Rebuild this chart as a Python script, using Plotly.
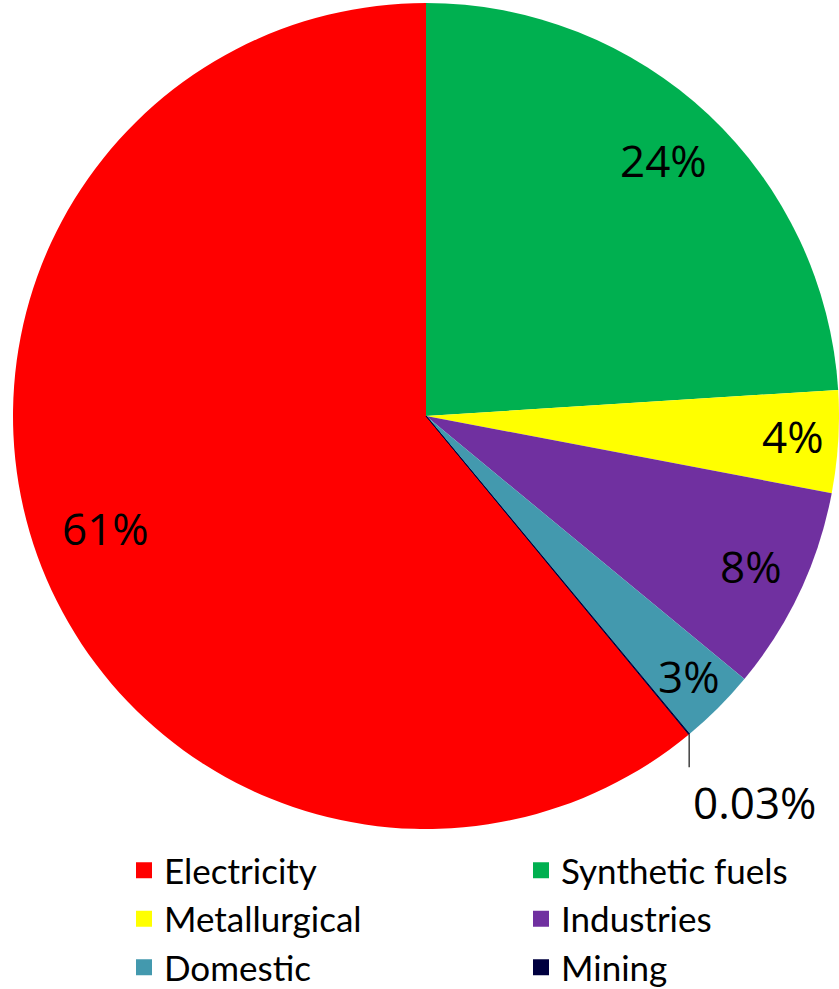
import math
import plotly.graph_objects as go

# Coal consumption by sector (share of total, %)
sectors = ["Electricity", "Synthetic fuels", "Metallurgical", "Industries", "Domestic", "Mining"]
shares = [61, 24, 4, 8, 3, 0.03]
share_labels = ["61%", "24%", "4%", "8%", "3%", "0.03%"]
# legend column for each sector (two columns, filled row by row)
legend_column = ["legend", "legend2", "legend", "legend2", "legend", "legend2"]

colors = ["#FF0000", "#00B050", "#FFFF00", "#7030A0", "#4399AE", "#00003F"]

W, H = 839, 989
# pie geometry in pixels (margins are zero, so paper == page)
CX, CY, R = 426.0, 416.0, 413.0
dom_x = [(CX - R) / W, (CX + R) / W]
dom_y = [1 - (CY + R) / H, 1 - (CY - R) / H]

total = sum(shares)
# Electricity is listed first but drawn last when going clockwise from 12 o'clock
rotation = 360.0 * (total - shares[0]) / total

LABEL_FONT = dict(family="Open Sans", size=44, color="black")
LEGEND_FONT = dict(family="Lato", size=35, color="black")
# radial position of each inside label as a fraction of the radius
label_r = [0.825, 0.84, 0.89, 0.87, 0.90, None]

fig = go.Figure()
fig.add_trace(go.Pie(
    labels=sectors,
    values=shares,
    sort=False,
    direction="clockwise",
    rotation=rotation,
    marker=dict(colors=colors,
                line=dict(color=colors, width=[0, 0, 0, 0, 0, 1])),
    textinfo="none",
    hoverinfo="label+percent",
    domain=dict(x=dom_x, y=dom_y),
    showlegend=False,
))

# legend entries with square swatches
for name, col, lg in zip(sectors, colors, legend_column):
    fig.add_trace(go.Scatter(
        x=[None], y=[None], mode="markers", name=name,
        marker=dict(symbol="square", size=16, color=col),
        showlegend=True, legend=lg,
    ))


def to_paper(px, py):
    return px / W, 1 - py / H


annotations = []
shapes = []
start = rotation
for i, (v, txt) in enumerate(zip(shares, share_labels)):
    span = 360.0 * v / total
    mid = math.radians((start + span / 2) % 360)
    start += span
    if label_r[i] is not None:
        rr = label_r[i] * R
        px = CX + rr * math.sin(mid)
        py = CY - rr * math.cos(mid)
        x, y = to_paper(px, py - 3)
        annotations.append(dict(x=x, y=y, xref="paper", yref="paper", text=txt,
                                showarrow=False, font=LABEL_FONT,
                                xanchor="center", yanchor="middle"))
    else:
        # tiny slice: leader line down from the rim, label below it
        px = CX + R * math.sin(mid)
        py = CY - R * math.cos(mid)
        x0, y0 = to_paper(px, py)
        x1, y1 = to_paper(px, py + 33)
        shapes.append(dict(type="line", xref="paper", yref="paper",
                           x0=x0, y0=y0, x1=x1, y1=y1,
                           line=dict(color="#404040", width=1.5)))
        x2, y2 = to_paper(px + 2, py + 36)
        annotations.append(dict(x=x2, y=y2, xref="paper", yref="paper", text=txt,
                                showarrow=False, font=LABEL_FONT,
                                xanchor="left", yanchor="top"))

legend_style = dict(
    orientation="v",
    xanchor="left",
    y=1 - 841 / H, yanchor="top",
    font=LEGEND_FONT,
    bgcolor="rgba(0,0,0,0)",
    itemclick=False, itemdoubleclick=False,
)

fig.update_layout(
    width=W, height=H,
    margin=dict(l=0, r=0, t=0, b=0, autoexpand=False),
    paper_bgcolor="white",
    plot_bgcolor="white",
    xaxis=dict(visible=False),
    yaxis=dict(visible=False),
    annotations=annotations,
    shapes=shapes,
    legend=dict(x=124 / W, **legend_style),
    legend2=dict(x=521 / W, **legend_style),
)

fig.write_html("out.html")
